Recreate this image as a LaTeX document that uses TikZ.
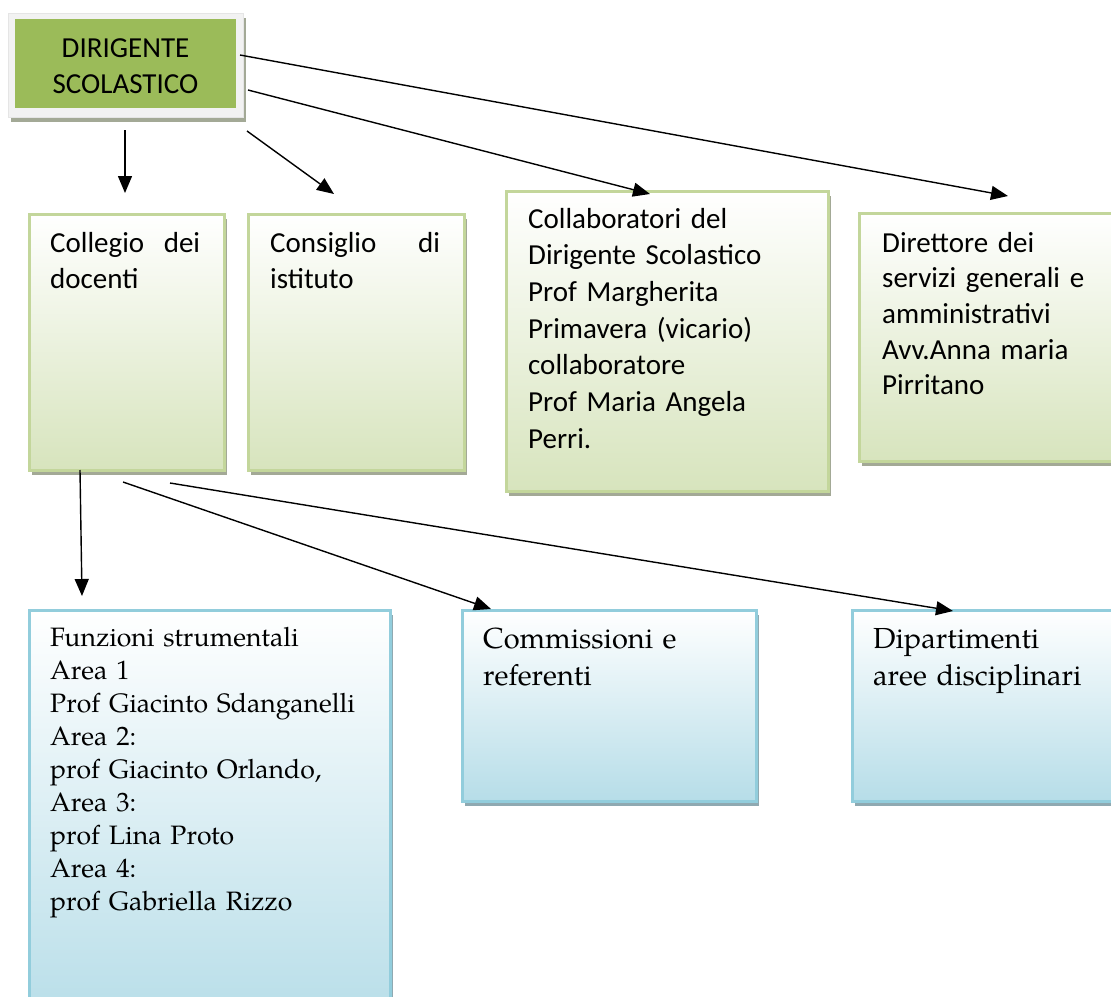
\documentclass[tikz,border=0pt]{standalone}
\usepackage{fontspec}
\setmainfont{Carlito}
\newfontfamily\palfont{TeX Gyre Pagella}
\usetikzlibrary{arrows.meta,shadows}
\definecolor{dsgreen}{HTML}{9BBB59}
\definecolor{gborder}{HTML}{C3D69B}
\definecolor{gbottom}{HTML}{D7E4BD}
\definecolor{gshadow}{HTML}{A3A996}
\definecolor{bborder}{HTML}{92CDDC}
\definecolor{bbottom}{HTML}{B6DDE8}
\definecolor{bshadow}{HTML}{8FA9B1}
\definecolor{frame}{HTML}{F2F2F2}
\tikzset{
  gbox/.style={draw=gborder, line width=2.5pt, top color=white, bottom color=gbottom,
    copy shadow={shadow xshift=3pt, shadow yshift=-5pt, fill=gshadow, draw=none},
    inner sep=0pt, anchor=north west},
  bbox/.style={draw=bborder, line width=2.5pt, top color=white, bottom color=bbottom,
    copy shadow={shadow xshift=3pt, shadow yshift=-5pt, fill=bshadow, draw=none},
    inner sep=0pt, anchor=north west},
  caltext/.style={inner sep=0pt, anchor=base west,
    font=\fontsize{29}{36.7}\selectfont},
  paltext/.style={inner sep=0pt, anchor=base west,
    font=\palfont\fontsize{26.6}{33}\selectfont},
  pal2text/.style={inner sep=0pt, anchor=base west,
    font=\palfont\fontsize{29}{37}\selectfont},
  arr/.style={-{Triangle[length=17pt,width=14pt]}, line width=1.4pt, black},
}
\begin{document}
\begin{tikzpicture}[x=1pt,y=-1pt]
\useasboundingbox (0,0) rectangle (1111,996);
\fill[white] (0,0) rectangle (1111,996);

% Dirigente
\node[anchor=north west, inner sep=0pt, minimum width=235pt, minimum height=104pt,
  fill=frame, draw=gray!20, line width=0.6pt,
  copy shadow={shadow xshift=3pt, shadow yshift=-5pt, fill=gshadow, draw=none}] (dirframe) at (8,13) {};
\node[anchor=north west, inner sep=0pt, minimum width=221pt, minimum height=89pt,
  fill=dsgreen] (dir) at (15,19) {};
\node[inner sep=0pt, align=center, font=\fontsize{29}{36}\selectfont] (dirtext) at (125.5,66) {DIRIGENTE\\SCOLASTICO};

% second row
\node[gbox, minimum width=195pt, minimum height=256pt] (coll) at (28,213) {};
\node[gbox, minimum width=216pt, minimum height=256pt] (cons) at (247,213) {};
\node[gbox, minimum width=322pt, minimum height=300pt] (collab) at (505,190) {};
\node[gbox, minimum width=280pt, minimum height=248pt] (dsga) at (858,212) {};

\node[caltext, text width=150pt] (colltext) at (50,252) {Collegio\hfill dei\\docenti};
\node[caltext, text width=170pt] (constext) at (270,252) {Consiglio\hfill di\\istituto};
\node[caltext, text width=290pt] (collabtext) at (528,228) {Collaboratori del\\Dirigente Scolastico\\Prof Margherita\\Primavera (vicario)\\collaboratore\\Prof Maria Angela\\Perri.};
\node[caltext, text width=225pt, font=\fontsize{29}{35.7}\selectfont] (dsgatext) at (882,252) {Direttore dei\\servizi generali e\\amministrativi\\Avv.Anna maria\\Pirritano};

% third row
\node[bbox, minimum width=361pt, minimum height=420pt] (funz) at (28,609) {};
\node[bbox, minimum width=294pt, minimum height=191pt] (comm) at (461,609) {};
\node[bbox, minimum width=290pt, minimum height=191pt] (dip) at (851,609) {};

\node[paltext, text width=335pt] (funztext) at (50,646) {Funzioni strumentali\\Area 1\\Prof Giacinto Sdanganelli\\Area 2:\\prof Giacinto Orlando,\\Area 3:\\prof Lina Proto\\Area 4:\\prof Gabriella Rizzo};
\node[pal2text, text width=265pt] (commtext) at (483,648) {Commissioni e\\referenti};
\node[pal2text, text width=235pt] (diptext) at (873,648) {Dipartimenti\\aree disciplinari};

% connector ends
\coordinate (a1s) at (125,130); \coordinate (a1e) at (125,193);
\coordinate (a2s) at (247,131); \coordinate (a2e) at (334,194);
\coordinate (a3s) at (248,90);  \coordinate (a3e) at (650,194);
\coordinate (a4s) at (240,55);  \coordinate (a4e) at (1008,196);
\coordinate (a5s) at (80,470);  \coordinate (a5e) at (82,596);
\coordinate (a6s) at (123,482); \coordinate (a6e) at (491,609);
\coordinate (a7s) at (170,483); \coordinate (a7e) at (953,611);

\draw[arr] (a1s) -- (a1e);
\draw[arr] (a2s) -- (a2e);
\draw[arr] (a3s) -- (a3e);
\draw[arr] (a4s) -- (a4e);
\draw[arr] (a5s) -- (a5e);
\draw[arr] (a6s) -- (a6e);
\draw[arr] (a7s) -- (a7e);
\end{tikzpicture}
\end{document}
